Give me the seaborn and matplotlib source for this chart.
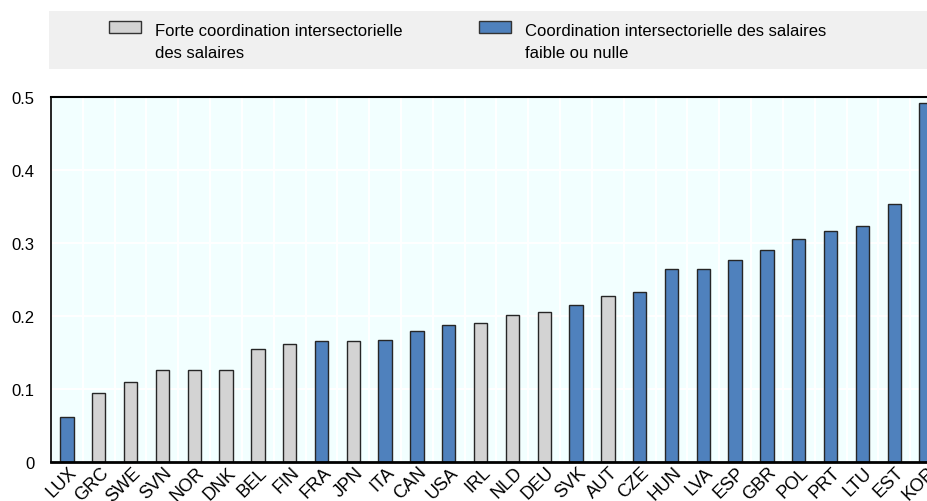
import matplotlib
matplotlib.use("Agg")
import matplotlib.pyplot as plt
from matplotlib.patches import Rectangle
from matplotlib.ticker import FixedLocator, FuncFormatter
from matplotlib.transforms import ScaledTranslation
import numpy as np
import pandas as pd
import seaborn as sns

# Countries ordered by value, with their group membership
countries = ["LUX", "GRC", "SWE", "SVN", "NOR", "DNK", "BEL", "FIN", "FRA", "JPN",
             "ITA", "CAN", "USA", "IRL", "NLD", "DEU", "SVK", "AUT", "CZE", "HUN",
             "LVA", "ESP", "GBR", "POL", "PRT", "LTU", "EST", "KOR"]
values = [0.062, 0.095, 0.109, 0.126, 0.126, 0.126, 0.155, 0.161, 0.166, 0.166,
          0.167, 0.179, 0.188, 0.190, 0.202, 0.206, 0.215, 0.227, 0.233, 0.264,
          0.265, 0.277, 0.290, 0.305, 0.316, 0.323, 0.354, 0.492]
strong_coordination = ["GRC", "SWE", "SVN", "NOR", "DNK", "BEL", "FIN", "JPN",
                       "IRL", "NLD", "DEU", "AUT"]
groups = ["Forte coordination intersectorielle\ndes salaires",
          "Coordination intersectorielle des salaires\nfaible ou nulle"]
y_ticks = [0, 0.1, 0.2, 0.3, 0.4, 0.5]

gray = "#D3D3D3"
blue = "#4F81BD"
edge = "#262626"

df = pd.DataFrame({
    "country": countries,
    "value": values,
    "group": [groups[0] if c in strong_coordination else groups[1] for c in countries],
})

sns.set_style("white")
plt.rcParams["font.family"] = ["Liberation Sans", "DejaVu Sans"]

fig = plt.figure(figsize=(9.28, 5.02), dpi=100)
W, H = 928, 502
ax = fig.add_axes([51 / W, 39 / H, 891 / W, 365 / H])
ax.set_facecolor("#F2FFFF")

sns.barplot(data=df, x="country", y="value", hue="group", order=countries,
            hue_order=groups, palette=[gray, blue], dodge=False, width=0.42,
            saturation=1, edgecolor=edge, linewidth=1.0, legend=False, ax=ax)

ax.set_xlim(-0.5, len(countries) - 0.5)
ax.set_ylim(0, 0.5)
ax.set_xlabel("")
ax.set_ylabel("")

# Grid: horizontal at value ticks, vertical between categories
ax.set_axisbelow(True)
ax.yaxis.set_major_locator(FixedLocator(y_ticks))
ax.yaxis.set_major_formatter(FuncFormatter(lambda v, p: "0" if v == 0 else f"{v:.1f}"))
ax.xaxis.set_minor_locator(FixedLocator(np.arange(len(countries) + 1) - 0.5))
ax.grid(axis="y", which="major", color="white", linewidth=1.5)
ax.grid(axis="x", which="minor", color="white", linewidth=1.5)
ax.grid(axis="x", which="major", visible=False)

ax.tick_params(axis="x", which="major", length=0, pad=1, labelsize=13,
               labelcolor="black")
ax.tick_params(axis="x", which="minor", direction="in", length=6, width=1.2,
               color="black")
ax.tick_params(axis="y", which="major", direction="in", length=6, width=1.2,
               color="black", pad=12, labelsize=12, labelcolor="black")

# Rotated country codes, nudged so each ends just right of and below its bar
shift = ScaledTranslation(7 / 100, -6 / 100, fig.dpi_scale_trans)
for lab in ax.get_xticklabels():
    lab.set_rotation(45)
    lab.set_ha("right")
    lab.set_va("center")
    lab.set_rotation_mode("anchor")
    lab.set_transform(lab.get_transform() + shift)

for side, lw in [("top", 1.5), ("bottom", 2.0), ("left", 1.2)]:
    ax.spines[side].set_visible(True)
    ax.spines[side].set_color("black")
    ax.spines[side].set_linewidth(lw)
ax.spines["right"].set_visible(False)

# Legend band above the plot
fig.add_artist(Rectangle((49 / W, 1 - 70 / H), 1.0, 58 / H,
                         transform=fig.transFigure, facecolor="#F0F0F0",
                         edgecolor="none", zorder=0))
legend_items = [(109, gray, groups[0], 155), (479, blue, groups[1], 525)]
for x_box, color, label, x_text in legend_items:
    fig.add_artist(Rectangle((x_box / W, 1 - 34 / H), 32 / W, 12 / H,
                             transform=fig.transFigure, facecolor=color,
                             edgecolor="#333333", linewidth=1.0, zorder=2))
    fig.text(x_text / W, 1 - 24 / H, label, ha="left", va="top",
             fontsize=12, linespacing=1.58, color="black")

fig.savefig("out.png", dpi=100)
